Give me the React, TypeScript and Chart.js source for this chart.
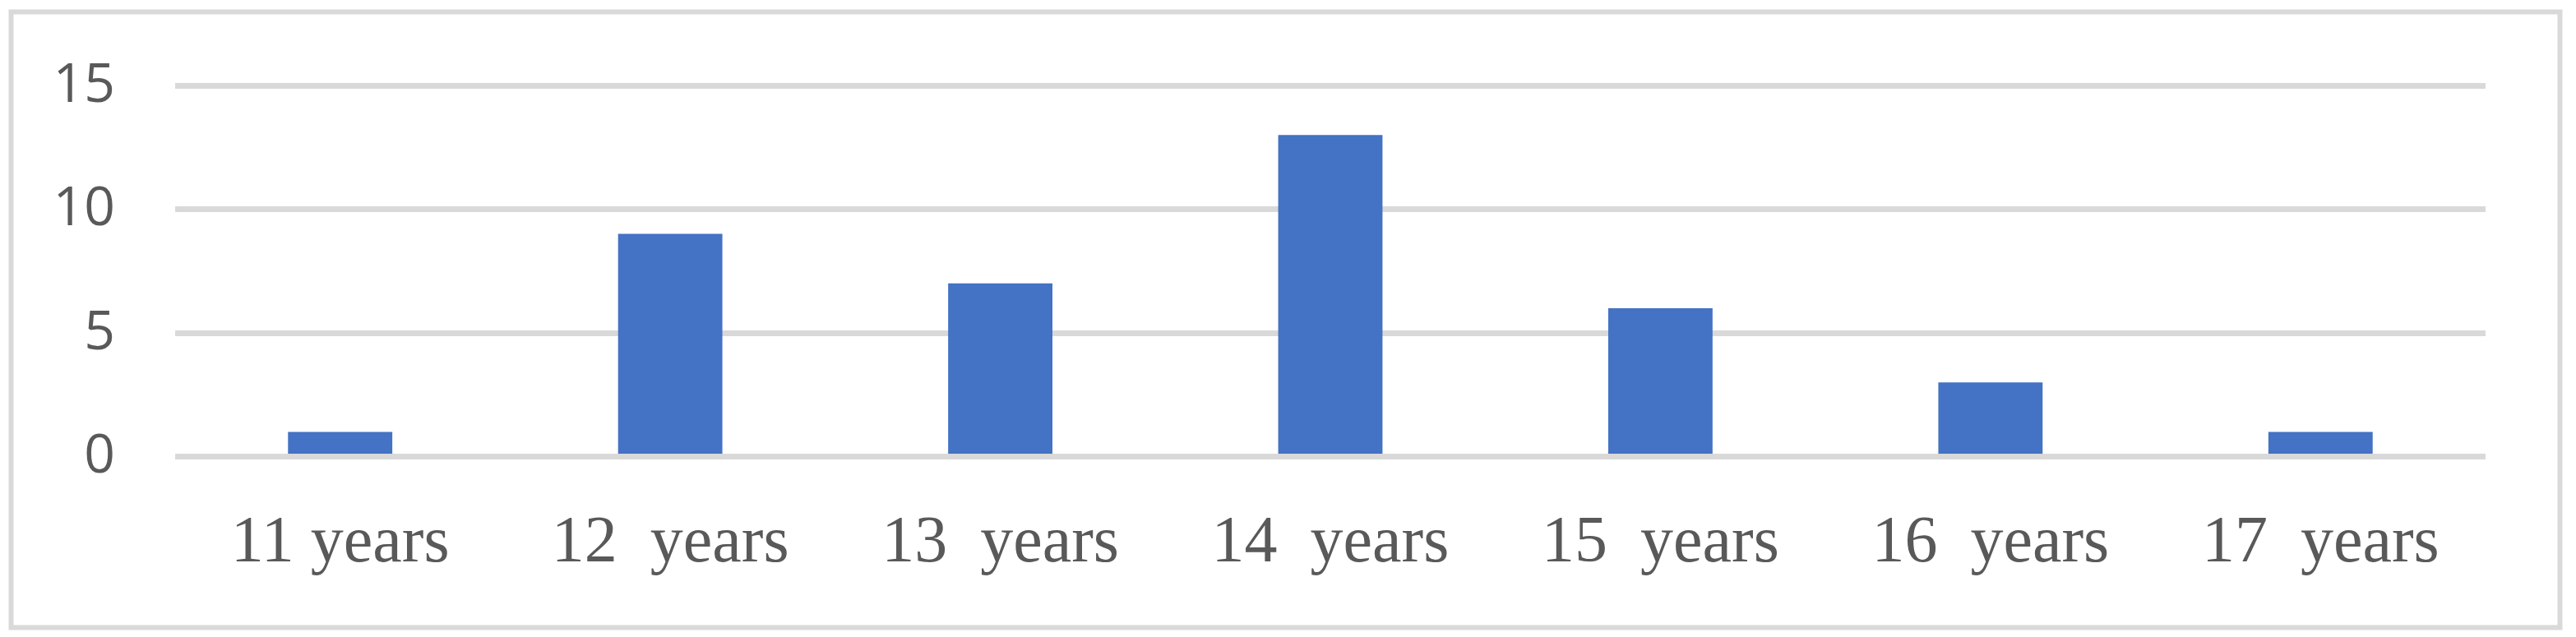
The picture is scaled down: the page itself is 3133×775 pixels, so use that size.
import React, { useEffect, useRef } from "react";
import { Chart, registerables } from "chart.js";

Chart.register(...registerables);

const categories = ["11 years", "12  years", "13  years", "14  years", "15  years", "16  years", "17  years"];
const counts = [1, 9, 7, 13, 6, 3, 1];
const yTicks = [0, 5, 10, 15];

const Y_FONT = "'Open Sans', sans-serif";
const Y_SIZE = 66;
const Y_LABEL_GAP = 73;

const framePlugin = {
  id: "frame",
  beforeDraw(chart: any) {
    const ctx = chart.ctx;
    ctx.save();
    ctx.fillStyle = "#ffffff";
    ctx.fillRect(0, 0, chart.width, chart.height);
    ctx.strokeStyle = "#d9d9d9";
    ctx.lineWidth = 6;
    ctx.strokeRect(13.5, 14.5, 3100, 749);
    ctx.restore();
  },
};

const yLabelPlugin = {
  id: "yLabels",
  afterDraw(chart: any) {
    const ctx = chart.ctx;
    const scale = chart.scales.y;
    ctx.save();
    ctx.setTransform(1, 0, 0, 1, 0, 0);
    ctx.direction = "ltr";
    ctx.fillStyle = "#595959";
    ctx.font = `${Y_SIZE}px ${Y_FONT}`;
    ctx.textAlign = "left";
    ctx.textBaseline = "middle";
    const rightEdge = chart.chartArea.left - Y_LABEL_GAP;
    for (const v of yTicks) {
      const label = String(v);
      const w = ctx.measureText(label).width;
      ctx.fillText(label, rightEdge - w, scale.getPixelForValue(v) + 1);
    }
    ctx.restore();
  },
};

export default function App() {
  const ref = useRef<HTMLCanvasElement | null>(null);
  useEffect(() => {
    document.body.style.margin = "0";
    const chart = new Chart(ref.current as HTMLCanvasElement, {
      type: "bar",
      data: {
        labels: categories,
        datasets: [
          {
            data: counts,
            backgroundColor: "#4472c4",
            categoryPercentage: 1,
            barPercentage: 0.316,
          },
        ],
      },
      options: {
        animation: false,
        responsive: false,
        maintainAspectRatio: false,
        layout: { padding: { top: 104, right: 110, bottom: 0, left: 0 } },
        plugins: { legend: { display: false }, tooltip: { enabled: false } },
        scales: {
          x: {
            grid: { display: false, drawTicks: false },
            border: { display: false },
            ticks: {
              color: "#595959",
              font: { family: "'Liberation Serif', serif", size: 80 },
              padding: 58,
              maxRotation: 0,
              autoSkip: false,
            },
            afterFit(scale: any) {
              scale.height = 219.5;
            },
          },
          y: {
            min: 0,
            max: 15,
            afterBuildTicks(scale: any) {
              scale.ticks = yTicks.map((v) => ({ value: v }));
            },
            grid: { color: "#d9d9d9", lineWidth: 7, drawTicks: false },
            border: { display: false },
            ticks: { display: false },
            afterFit(scale: any) {
              scale.width = 213;
            },
          },
        },
      },
      plugins: [framePlugin, yLabelPlugin],
    });
    return () => chart.destroy();
  }, []);
  return (
    <div style={{ position: "absolute", left: 0, top: 0, width: 3133, height: 775 }}>
      <canvas ref={ref} width={3133} height={775} style={{ display: "block" }} />
    </div>
  );
}
